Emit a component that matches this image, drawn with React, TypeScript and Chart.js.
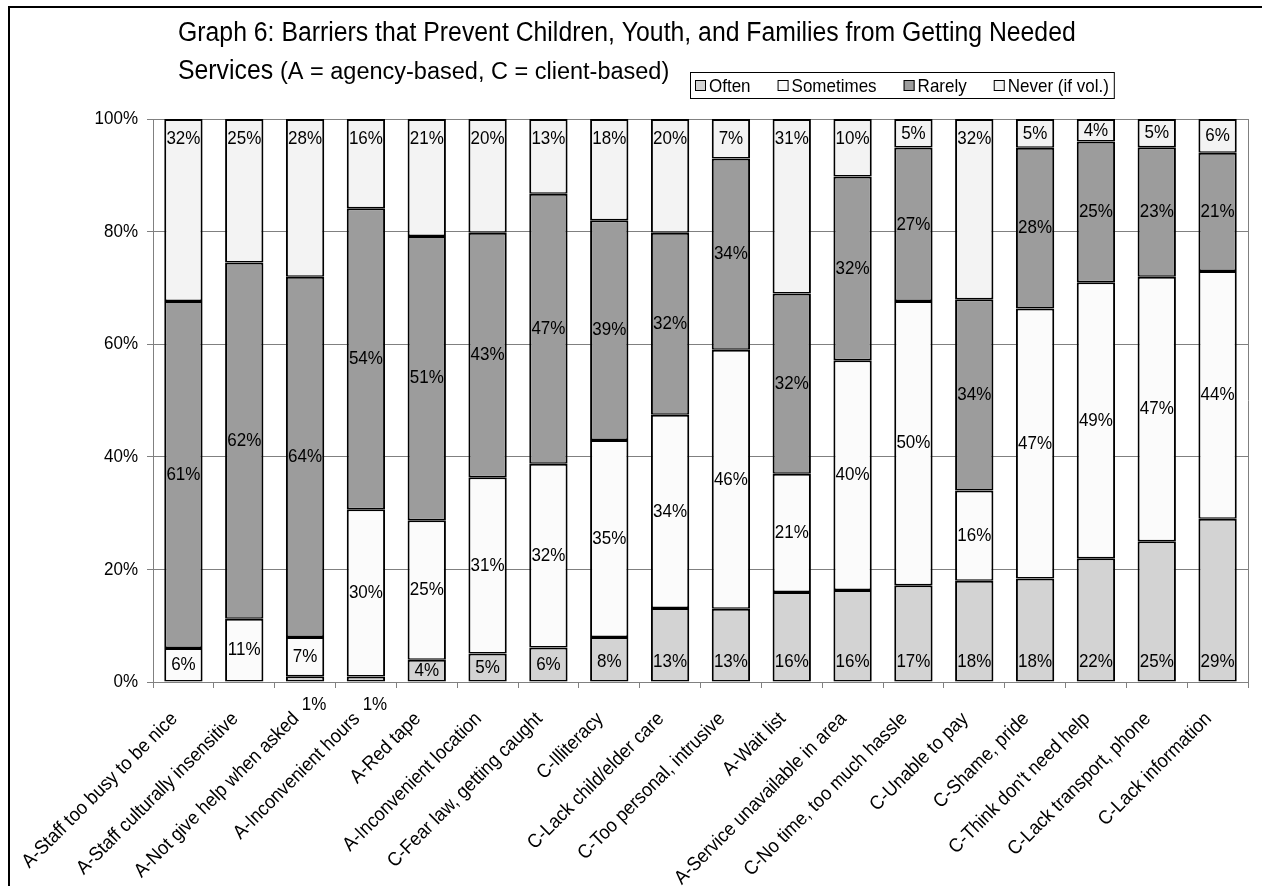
import React, { useEffect, useRef } from "react";
import { Chart, registerables } from "chart.js";

Chart.register(...registerables);

const categories = [
  "A-Staff too busy to be nice",
  "A-Staff culturally insensitive",
  "A-Not give help when asked",
  "A-Inconvenient hours",
  "A-Red tape",
  "A-Inconvenient location",
  "C-Fear law, getting caught",
  "C-Illiteracy",
  "C-Lack child/elder care",
  "C-Too personal, intrusive",
  "A-Wait list",
  "A-Service unavailable in area",
  "C-No time, too much hassle",
  "C-Unable to pay",
  "C-Shame, pride",
  "C-Think don't need help",
  "C-Lack transport, phone",
  "C-Lack information",
];

const seriesNames = ["Often", "Sometimes", "Rarely", "Never (if vol.)"];

const often = [0, 0, 1, 1, 4, 5, 6, 8, 13, 13, 16, 16, 17, 18, 18, 22, 25, 29];
const sometimes = [6, 11, 7, 30, 25, 31, 32, 35, 34, 46, 21, 40, 50, 16, 47, 49, 47, 44];
const rarely = [61, 62, 64, 54, 51, 43, 47, 39, 32, 34, 32, 32, 27, 34, 28, 25, 23, 21];
const never = [32, 25, 28, 16, 21, 20, 13, 18, 20, 7, 31, 10, 5, 32, 5, 4, 5, 6];

const yTicks = [0, 20, 40, 60, 80, 100];

const titleLine1 = "Graph 6: Barriers that Prevent Children, Youth, and Families from Getting Needed";
const titleLine2a = "Services";
const titleLine2b = "(A = agency-based, C = client-based)";

const seriesColors = ["#d3d3d3", "#fbfbfb", "#9c9c9c", "#f3f3f3"];

const FONT = '"Liberation Sans", Arial, sans-serif';
const SY = 1.13; // the original picture's glyphs are a little taller than Arial

const rawSeries = [often, sometimes, rarely, never];
const totals = categories.map((_, j) => rawSeries.reduce((s, arr) => s + arr[j], 0));
const normalized = rawSeries.map((arr) => arr.map((v, j) => (v / totals[j]) * 100));

function drawText(
  ctx: CanvasRenderingContext2D,
  text: string,
  x: number,
  y: number,
  size: number,
  align: CanvasTextAlign = "left",
  rot = 0,
  sy = SY
) {
  ctx.save();
  ctx.translate(x, y);
  if (rot) ctx.rotate(rot);
  ctx.scale(1, sy);
  ctx.font = `${size}px ${FONT}`;
  ctx.textAlign = align;
  ctx.textBaseline = "middle";
  ctx.fillStyle = "#000";
  ctx.fillText(text, 0, 0);
  ctx.restore();
}

const decorPlugin = {
  id: "decor",
  afterDraw(chart: any) {
    const ctx = chart.ctx as CanvasRenderingContext2D;
    const area = chart.chartArea;
    const xs = chart.scales.x;
    const ys = chart.scales.y;
    ctx.save();
    // outer frame
    ctx.strokeStyle = "#000";
    ctx.lineWidth = 2;
    ctx.strokeRect(9, 7, 1400, 1000);

    // plot area right border
    ctx.strokeStyle = "#808080";
    ctx.lineWidth = 1;
    ctx.beginPath();
    ctx.moveTo(Math.round(area.right) + 0.5, area.top);
    ctx.lineTo(Math.round(area.right) + 0.5, area.bottom);
    ctx.stroke();

    // y tick labels
    yTicks.forEach((v) => {
      drawText(ctx, v + "%", 138, ys.getPixelForValue(v), 17, "right");
    });

    // x category labels
    categories.forEach((c, j) => {
      const cx = xs.getPixelForValue(j);
      drawText(ctx, c, cx - 9, area.bottom + 34, 18, "right", -Math.PI / 4, 1.08);
    });

    // title
    drawText(ctx, titleLine1, 178, 33, 24.8);
    ctx.font = `24.8px ${FONT}`;
    const w = ctx.measureText(titleLine2a + " ").width;
    drawText(ctx, titleLine2a, 178, 71, 24.8);
    drawText(ctx, titleLine2b, 178 + w, 73, 23.5, "left", 0, 1.0);

    // legend
    ctx.font = `17px ${FONT}`;
    const sq = 11;
    const gap = 3;
    const itemGap = 27;
    let total = 0;
    seriesNames.forEach((n, i) => {
      total += sq + gap + ctx.measureText(n).width + (i < seriesNames.length - 1 ? itemGap : 0);
    });
    const boxLeft = 690;
    const boxTop = 72;
    const boxH = 26;
    const boxW = total + 10;
    ctx.fillStyle = "#fff";
    ctx.fillRect(boxLeft, boxTop, boxW, boxH);
    ctx.strokeStyle = "#000";
    ctx.lineWidth = 1;
    ctx.strokeRect(boxLeft + 0.5, boxTop + 0.5, boxW, boxH);
    let x = boxLeft + 5;
    const cy = boxTop + boxH / 2 + 0.5;
    seriesNames.forEach((n, i) => {
      ctx.fillStyle = seriesColors[i];
      ctx.fillRect(x, cy - sq / 2, sq, sq);
      ctx.strokeStyle = "#000";
      ctx.strokeRect(x + 0.5, cy - sq / 2 + 0.5, sq - 1, sq - 1);
      x += sq + gap;
      drawText(ctx, n, x, cy + 1, 17);
      ctx.font = `17px ${FONT}`;
      x += ctx.measureText(n).width + itemGap;
    });
    ctx.restore();
  },
};

const labelPlugin = {
  id: "segLabels",
  afterDatasetsDraw(chart: any) {
    const ctx = chart.ctx as CanvasRenderingContext2D;
    const axisY = chart.scales.y.getPixelForValue(0);
    chart.data.datasets.forEach((_ds: any, di: number) => {
      const meta = chart.getDatasetMeta(di);
      const raw = rawSeries[di];
      meta.data.forEach((bar: any, j: number) => {
        const v = raw[j];
        if (!v) return;
        const p = bar.getProps(["x", "y", "base"], true);
        const top = Math.min(p.y, p.base);
        const bottom = Math.max(p.y, p.base);
        const center = (top + bottom) / 2;
        const text = v + "%";
        if (v < 2) {
          drawText(ctx, text, p.x + 9, axisY + 23, 17, "center");
          return;
        }
        let ly = center;
        if (di === 0) ly = Math.max(bottom - 20, center);
        else if (di === 3) ly = Math.min(top + 20, center);
        drawText(ctx, text, p.x, ly, 17, "center");
      });
    });
  },
};

export default function App() {
  const ref = useRef<HTMLCanvasElement | null>(null);

  useEffect(() => {
    if (!ref.current) return;
    const chart = new Chart(ref.current, {
      type: "bar",
      data: {
        labels: categories,
        datasets: seriesNames.map((name, i) => ({
          label: name,
          data: normalized[i],
          backgroundColor: seriesColors[i],
          borderColor: "#000",
          borderWidth: { left: 2, right: 2, top: 2, bottom: 1.5 },
          borderSkipped: false,
          barPercentage: 0.63,
          categoryPercentage: 1,
        })),
      },
      options: {
        responsive: false,
        animation: false,
        devicePixelRatio: 1,
        layout: { padding: { left: 0, top: 119, right: 14, bottom: 0 } },
        plugins: {
          legend: { display: false },
          title: { display: false },
          tooltip: { enabled: false },
        },
        scales: {
          x: {
            stacked: true,
            grid: {
              display: true,
              drawOnChartArea: false,
              drawTicks: true,
              tickLength: 6,
              color: "#808080",
              offset: true,
            },
            border: { display: true, color: "#808080", width: 1 },
            ticks: { display: false, autoSkip: false },
            afterFit: (s: any) => {
              s.height = 204;
            },
          },
          y: {
            stacked: true,
            min: 0,
            max: 100,
            afterBuildTicks: (s: any) => {
              s.ticks = yTicks.map((v) => ({ value: v }));
            },
            ticks: { display: false },
            grid: { color: "#808080", tickLength: 6, drawTicks: true },
            border: { display: true, color: "#808080", width: 1 },
            afterFit: (s: any) => {
              s.width = 153;
            },
          },
        },
      } as any,
      plugins: [labelPlugin, decorPlugin],
    });
    return () => chart.destroy();
  }, []);

  return (
    <div style={{ position: "fixed", left: 0, top: 0, width: 1262, height: 886, background: "#fff" }}>
      <canvas ref={ref} width={1262} height={886} style={{ display: "block" }} />
    </div>
  );
}
